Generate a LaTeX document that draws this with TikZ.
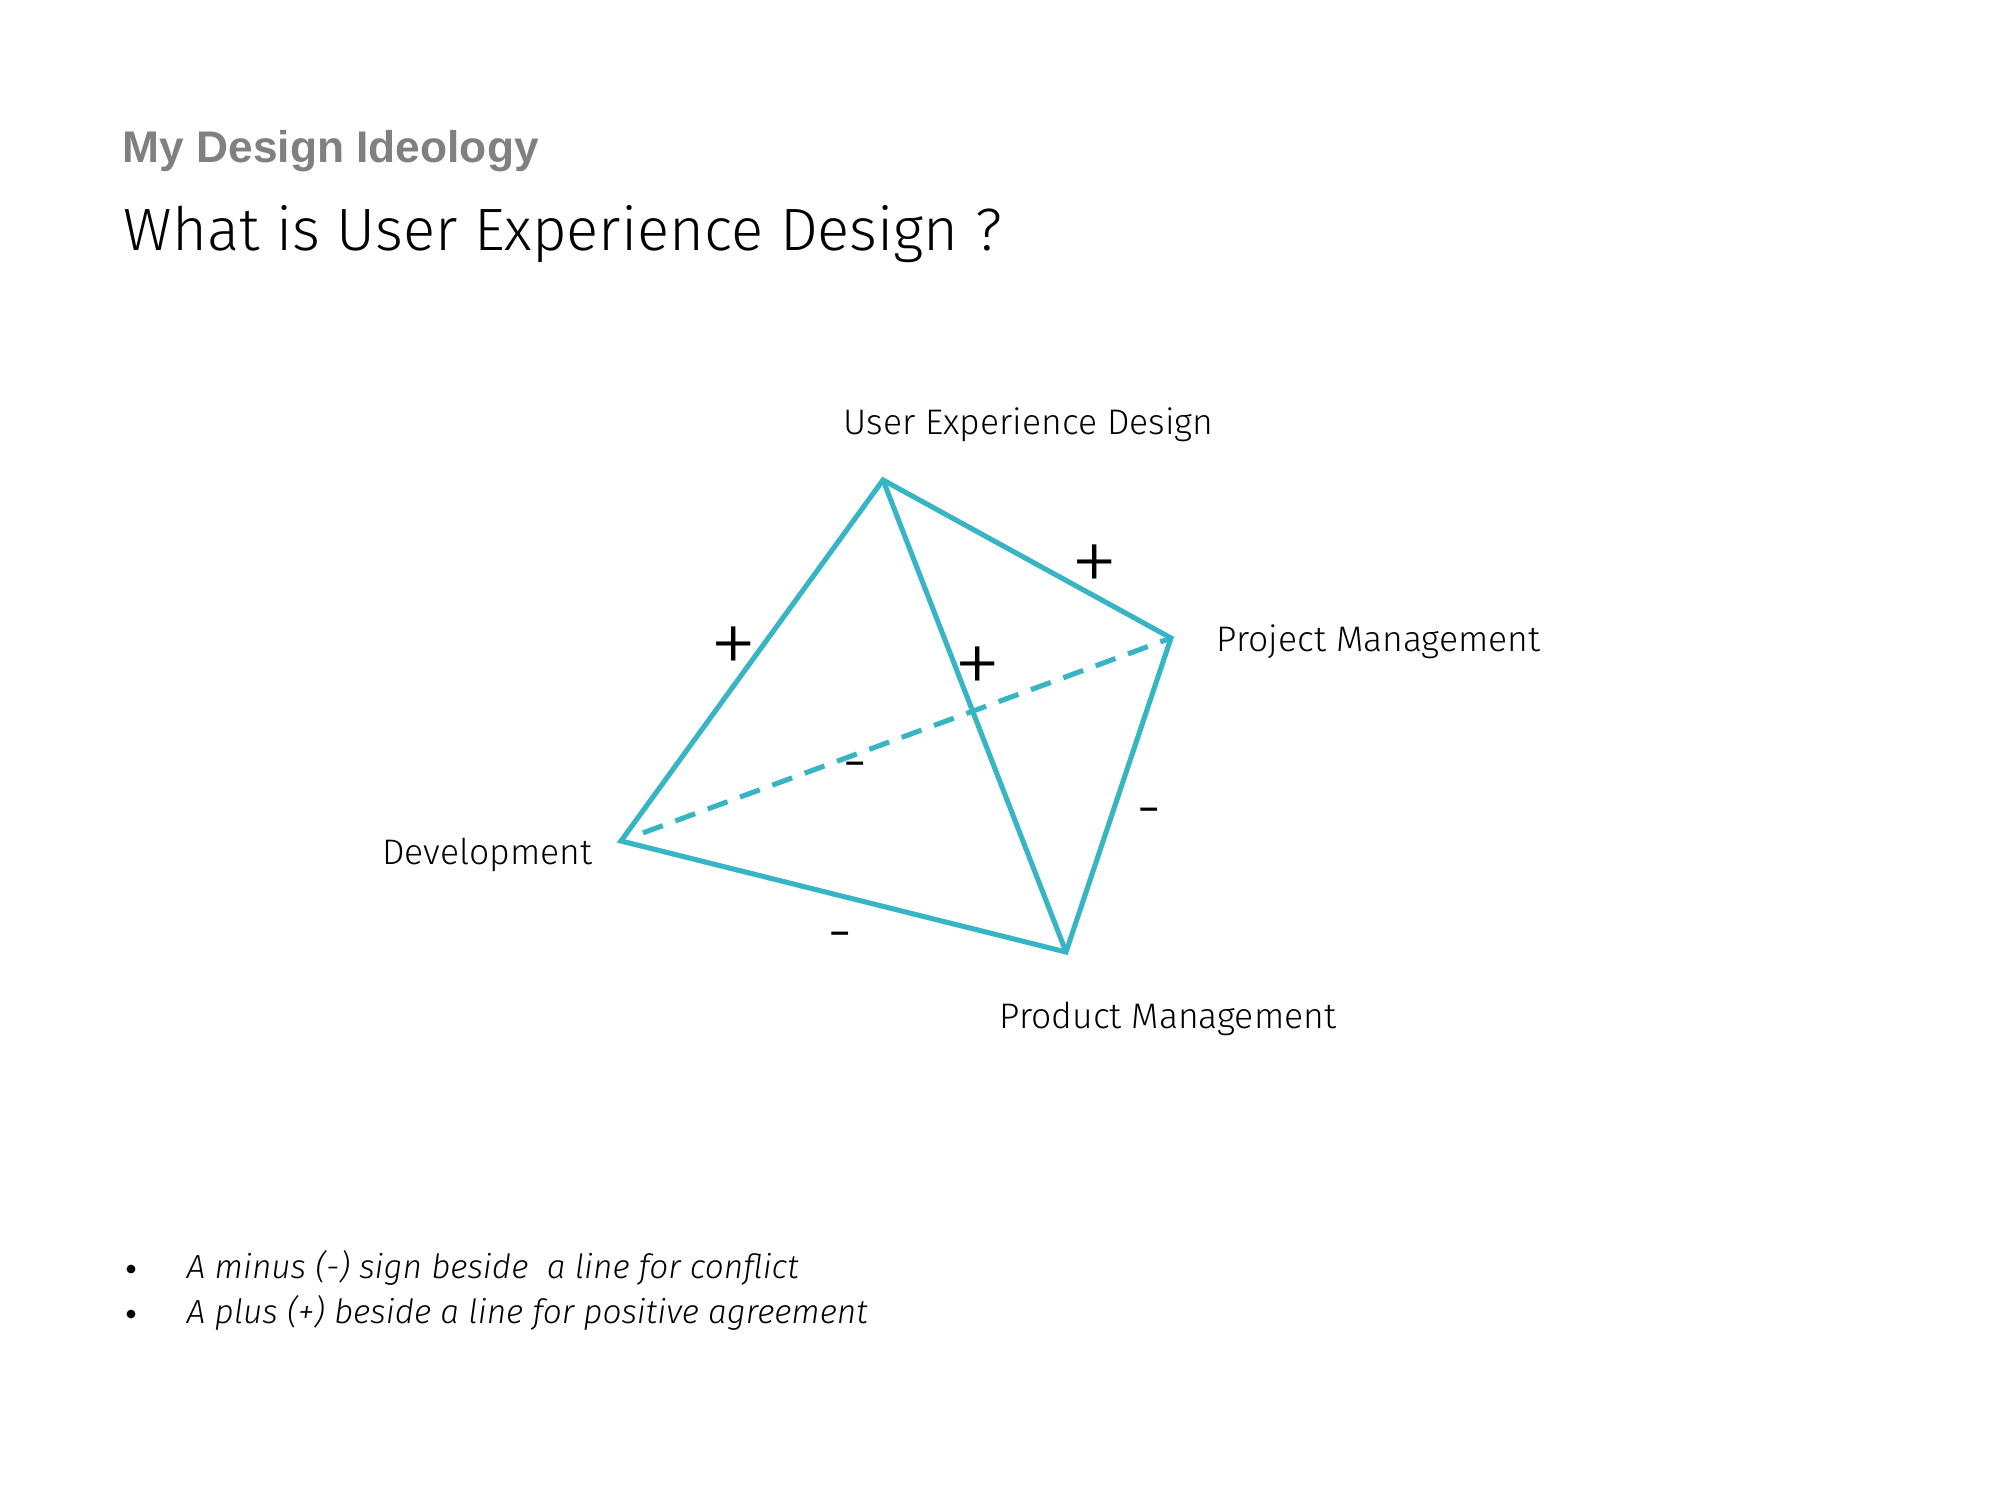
\documentclass[tikz,border=0pt]{standalone}
\usepackage{fontspec}
\setmainfont{Fira Sans}[UprightFont={* Light}, ItalicFont={* Light Italic}]
\newfontfamily\headfont{Liberation Sans}
\newfontfamily\signfont{Fira Sans}[UprightFont={* ExtraLight}]
\usepackage{xcolor}
\usetikzlibrary{calc}
\definecolor{tealline}{RGB}{56,181,197}
\definecolor{headgray}{RGB}{128,128,128}

\begin{document}
\begin{tikzpicture}[x=0.01cm, y=-0.01cm,
    edge/.style={tealline, line width=1.45pt},
    hidden/.style={tealline, line width=1.45pt, dash pattern=on 6pt off 3.8pt},
    corner/.style={inner sep=0pt, font=\fontsize{10.1}{12}\selectfont},
    legend/.style={inner sep=0pt, font=\fontsize{9.5}{12}\selectfont\itshape},
    dot/.style={circle, fill=black, inner sep=0pt, minimum size=2.5pt},
    plus/.style={inner sep=0pt, font=\signfont\fontsize{28}{30}\selectfont},
    minus/.style={inner sep=0pt, font=\fontsize{18}{20}\selectfont}]

	\useasboundingbox (0,0) rectangle (2000,1500);

	% Headings
	\node[anchor=west, inner sep=0pt, text=headgray] (ideology) at (122,151)
		{\headfont\bfseries\fontsize{12.6}{15}\selectfont My Design Ideology};
	\node[anchor=west, inner sep=0pt] (question) at (123,234)
		{\fontsize{17}{20}\selectfont What is User Experience Design ?};

	% Corners of the tetrahedron
	\coordinate (uxd) at (883,480);
	\coordinate (proj) at (1171,638);
	\coordinate (dev) at (621,841);
	\coordinate (prod) at (1066,952);

	\node[corner, anchor=west] (uxdlabel) at (843,425) {User Experience Design};
	\node[corner, anchor=west] (projlabel) at (1216,642) {Project Management};
	\node[corner, anchor=east] (devlabel) at (593,855) {Development};
	\node[corner, anchor=west] (prodlabel) at (999,1019) {Product Management};

	% Edges
	\draw[hidden] ($(dev)!0.04!(proj)$) -- (proj);
	\draw[edge, line join=miter] (dev) -- (uxd) -- (proj) -- (prod) -- cycle;
	\draw[edge] (uxd) -- (prod);

	% Signs beside the edges
	\node[plus] (plusdev) at (734,652) {+};
	\node[plus] (plusproj) at (1095,570) {+};
	\node[plus] (plusprod) at (978,672) {+};
	\node[minus] (minusdp) at (855,773) {-};
	\node[minus] (minuspr) at (1149,819) {-};
	\node[minus] (minusdr) at (840,943) {-};

	% Legend
	\node[dot] (bulleta) at (131,1269) {};
	\node[dot] (bulletb) at (131,1314) {};
	\node[legend, anchor=west] (legenda) at (186,1268) {A minus (-) sign beside\ \ a line for conflict};
	\node[legend, anchor=west] (legendb) at (186,1313) {A plus (+) beside a line for positive agreement};

\end{tikzpicture}
\end{document}
